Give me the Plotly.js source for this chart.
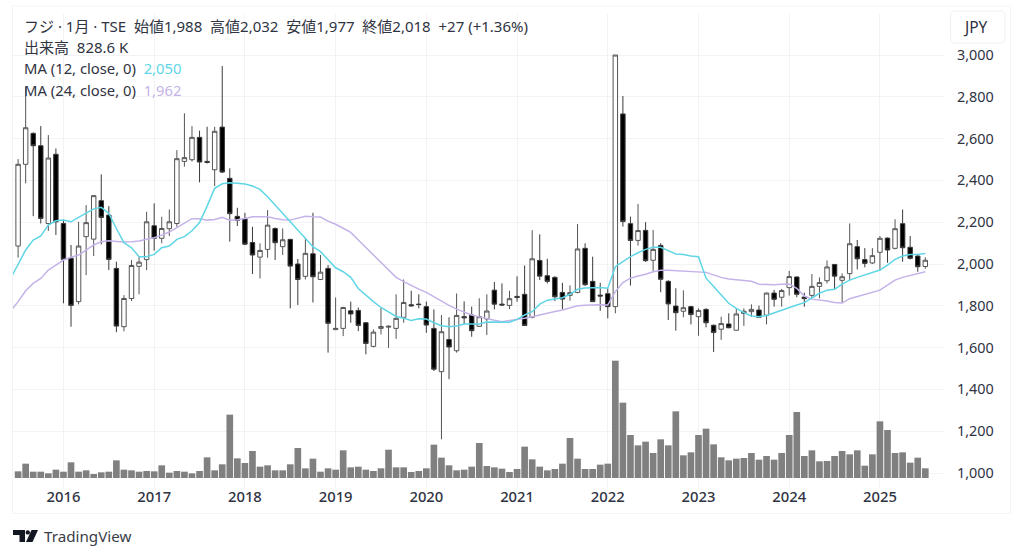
<!DOCTYPE html>
<html><head><meta charset="utf-8">
<script src="https://cdn.plot.ly/plotly-3.0.1.min.js"></script>
<style>html,body{margin:0;padding:0;background:#fff}#c{width:1024px;height:558px}</style>
</head><body><div id="c"></div>
<script>
// monthly bars: Jul 2015 .. Jul 2025
const opens=[2086,2477,2625,2566,2194,2525,2194,2028,1820,2131,
2119,2303,2234,1979,1700,1835,1989,2021,2183,2123,
2169,2194,2491,2499,2606,2491,2451,2655,2410,2228,
2217,2103,2033,2070,2170,2083,2118,2000,1941,2049,
1926,1979,1686,1692,1776,1778,1719,1606,1692,1698,
1692,1745,1805,1808,1796,1692,1485,1639,1585,1748,
1756,1702,1737,1875,1808,1802,1845,1855,1745,2017,
1944,1936,1864,1850,1864,2075,1917,1851,1858,1796,
2718,2193,2113,2161,2018,2089,1917,1799,1774,1796,
1748,1783,1707,1688,1713,1683,1763,1772,1780,1755,
1861,1841,1887,1938,1842,1850,1893,1920,1998,1922,
1954,2083,2021,2005,2056,2124,2075,2193,2080,2038,1988];
const highs=[2502,2848,2630,2660,2617,2553,2213,2091,2202,2282,
2330,2429,2277,2011,1851,2019,2035,2250,2290,2226,
2261,2545,2721,2660,2638,2657,2657,2947,2458,2269,
2245,2178,2099,2258,2175,2170,2120,2024,2123,2245,
2043,1995,1840,1795,1820,1792,1722,1687,1789,1706,
1855,1926,1872,1855,1820,1783,1756,1745,1859,1821,
1796,1836,1855,1914,1907,1872,1941,1993,2162,2142,
2025,1942,1910,1898,2191,2099,2035,1910,1883,3000,
2804,2227,2287,2200,2163,2099,1923,1884,1874,1800,
1788,1788,1710,1748,1764,1788,1788,1807,1801,1863,
1876,1881,1967,1940,1863,1952,1936,2017,2000,1955,
2194,2115,2076,2076,2134,2127,2214,2261,2134,2048,2032];
const lows=[2030,2386,2229,2194,2158,2139,1812,1700,1807,1947,
2038,2094,1971,1674,1678,1823,1855,1971,2064,2099,
2134,2178,2466,2490,2391,2481,2373,2435,2107,2182,
2090,1952,1931,2030,2019,2043,1788,1804,1926,1816,
1923,1576,1684,1655,1719,1679,1568,1601,1663,1599,
1642,1719,1796,1788,1671,1488,1161,1449,1576,1713,
1652,1699,1660,1783,1800,1784,1820,1704,1740,1923,
1907,1823,1783,1824,1860,1895,1818,1776,1740,1764,
2179,1897,2088,2010,1967,1865,1732,1681,1745,1711,
1657,1697,1579,1637,1693,1681,1704,1747,1743,1711,
1796,1796,1849,1841,1796,1836,1836,1907,1880,1815,
1920,1974,1984,2000,1968,2006,2070,2011,2022,1963,1977];
const closes=[2477,2652,2566,2218,2507,2202,2022,1802,2086,2198,
2327,2223,2022,1703,1835,1993,2009,2202,2123,2170,
2202,2504,2509,2606,2488,2486,2635,2440,2241,2209,
2095,2043,2065,2186,2102,2116,1990,1926,2051,1939,
1961,1716,1692,1792,1761,1706,1620,1674,1701,1702,
1740,1816,1800,1806,1708,1497,1676,1603,1754,1743,
1681,1748,1775,1808,1804,1834,1840,1706,2025,1942,
1917,1843,1832,1863,2072,1901,1820,1847,1796,3000,
2203,2113,2160,2016,2070,1927,1809,1767,1791,1758,
1778,1719,1672,1715,1695,1761,1774,1783,1745,1861,
1831,1873,1940,1855,1834,1893,1911,1986,1942,1939,
2097,2025,2003,2040,2123,2067,2169,2078,2027,1987,2018];
// volume in thousands of shares
const volumes=[570,1225,540,540,400,712,540,1340,540,655,
342,485,540,1510,712,655,540,600,570,1083,
456,600,540,400,600,1767,655,1170,5415,1680,
1280,2310,970,1083,655,655,1170,2565,826,1653,
540,826,712,2365,912,970,712,600,826,2420,
912,912,513,600,826,2850,1740,1083,655,712,
970,2990,1026,912,798,513,770,2680,1596,970,
655,770,1225,3420,1653,770,770,1140,1225,10030,
6440,3676,2793,3106,2137,3306,2793,5700,1938,2195,
3676,4218,2878,1767,1510,1653,1710,2137,1567,1881,
1567,2137,3676,5643,1881,2365,1425,1453,1881,2310,
2023,2365,1054,2023,4845,4104,2137,2195,1311,1738,828.6];
// moving averages, first value one month before the first bar
const ma12=[1930,1995,2067,2115,2134,2186,2207,2210,2202,2223,2242,
2264,2271,2242,2170,2102,2078,2035,2035,2046,2078,
2086,2118,2131,2159,2198,2277,2362,2384,2389,2387,
2383,2373,2357,2322,2282,2242,2207,2167,2123,2083,
2059,2019,1982,1963,1936,1883,1851,1820,1792,1772,
1749,1740,1730,1738,1737,1719,1705,1700,1703,1713,
1714,1713,1722,1721,1719,1721,1735,1756,1772,1808,
1827,1834,1839,1855,1879,1885,1888,1888,1884,1987,
2011,2035,2054,2070,2080,2080,2064,2048,2045,2038,
2035,1932,1892,1852,1812,1788,1767,1751,1748,1754,
1767,1780,1793,1804,1815,1836,1860,1875,1879,1904,
1923,1936,1947,1958,1971,1995,2022,2038,2046,2046,2050];
const ma24=[1775,1820,1872,1907,1931,1971,1995,2019,2032,2043,2067,
2091,2107,2111,2108,2105,2107,2110,2118,2126,2138,
2153,2174,2194,2217,2217,2210,2213,2223,2210,2212,
2218,2226,2226,2226,2218,2212,2210,2218,2228,2226,
2225,2205,2190,2171,2151,2115,2079,2043,2007,1971,
1936,1916,1896,1880,1864,1842,1820,1802,1784,1770,
1756,1747,1738,1731,1724,1729,1735,1741,1748,1757,
1767,1773,1780,1790,1800,1803,1805,1805,1804,1868,
1911,1932,1943,1951,1963,1970,1970,1968,1967,1963,
1962,1960,1948,1936,1928,1925,1922,1917,1903,1901,
1901,1903,1904,1883,1847,1832,1828,1823,1816,1813,
1834,1844,1855,1864,1875,1899,1923,1936,1946,1955,1963];
const yearLabels=['2016','2017','2018','2019','2020','2021','2022','2023','2024','2025'];
const yearIdx=[6,18,30,42,54,66,78,90,102,114];
const priceTicks=[1000,1200,1400,1600,1800,2000,2200,2400,2600,2800,3000];
const priceText=['1,000','1,200','1,400','1,600','1,800','2,000','2,200','2,400','2,600','2,800','3,000'];
const idx=opens.map((_,i)=>i);
const maIdx=ma12.map((_,i)=>i-1);

const W=1024,H=558,L=13,R=945,T=14,B=487;
const PX=x=>(x-L)/(R-L), PY=y=>(B-y)/(B-T);
const pt=(x,y)=>PX(x).toFixed(5)+','+PY(y).toFixed(5);
const FONT='"Noto Sans","Noto Sans CJK JP",sans-serif';
const INK='#2f3342';
function note(x,y,text,size,extra){return Object.assign({xref:'paper',yref:'paper',x:PX(x),y:PY(y),text:text,showarrow:false,xanchor:'left',yanchor:'middle',font:{family:FONT,size:size,color:INK},borderpad:0},extra||{});}
function rr(x0,y0,x1,y1,r){return 'M'+pt(x0+r,y0)+' L'+pt(x1-r,y0)+' Q'+pt(x1,y0)+' '+pt(x1,y0+r)+' L'+pt(x1,y1-r)+' Q'+pt(x1,y1)+' '+pt(x1-r,y1)+' L'+pt(x0+r,y1)+' Q'+pt(x0,y1)+' '+pt(x0,y1-r)+' L'+pt(x0,y0+r)+' Q'+pt(x0,y0)+' '+pt(x0+r,y0)+' Z';}
const paper={xref:'paper',yref:'paper'};
const shapes=[
 Object.assign({type:'rect',x0:PX(12.5),x1:PX(1010.5),y0:PY(513.5),y1:PY(6),line:{color:'#f3f3f5',width:1},layer:'below'},paper),
 Object.assign({type:'path',path:rr(950.5,11,1005,43,5),line:{color:'#eff0f2',width:1},fillcolor:'#fff'},paper),
 Object.assign({type:'path',path:'M'+pt(13,530)+' L'+pt(25,530)+' L'+pt(25,542)+' L'+pt(19.5,542)+' L'+pt(19.5,535)+' L'+pt(13,535)+' Z',line:{width:0},fillcolor:'#131722'},paper),
 Object.assign({type:'circle',x0:PX(25.6),x1:PX(30),y0:PY(534.6),y1:PY(530.2),line:{width:0},fillcolor:'#131722'},paper),
 Object.assign({type:'path',path:'M'+pt(31.5,530)+' L'+pt(38,530)+' L'+pt(32.5,542)+' L'+pt(26,542)+' Z',line:{width:0},fillcolor:'#131722'},paper)
];
const annotations=[
 note(23,26,'フジ · 1月 · TSE  始値1,988  高値2,032  安値1,977  終値2,018  +27 (+1.36%)',15),
 note(23,47,'出来高  828.6 K',15),
 note(23,68,'MA (12, close, 0)  <span style="color:#5fd6e6">2,050</span>',14.8),
 note(23,90,'MA (24, close, 0)  <span style="color:#c4b3e8">1,962</span>',14.8),
 note(962,27,'JPY',15.5),
 note(43,536,'TradingView',15.2,{font:{family:FONT,size:15.2,color:'#3a3d47'}})
];
const traces=[
 {type:'bar',x:idx,y:volumes,yaxis:'y',marker:{color:'#808080',line:{width:0}},hoverinfo:'skip',showlegend:false},
 {type:'candlestick',x:idx,open:opens,high:highs,low:lows,close:closes,yaxis:'y2',whiskerwidth:0,
  increasing:{line:{color:'#555555',width:1},fillcolor:'#ffffff'},
  decreasing:{line:{color:'#3a3a3a',width:1},fillcolor:'#000000'},hoverinfo:'skip',showlegend:false},
 {type:'scatter',mode:'lines',x:maIdx,y:ma24,yaxis:'y2',line:{color:'#c4b3e8',width:1.5},hoverinfo:'skip',showlegend:false},
 {type:'scatter',mode:'lines',x:maIdx,y:ma12,yaxis:'y2',line:{color:'#5fd6e6',width:1.5},hoverinfo:'skip',showlegend:false}
];
const layout={width:W,height:H,margin:{l:L,r:W-R,t:T,b:H-B,pad:0},paper_bgcolor:'#fff',plot_bgcolor:'#fff',
 showlegend:false,bargap:0.12,boxgap:0.16,hovermode:false,dragmode:false,
 xaxis:{range:[(L-18.1)/7.56,(R-18.1)/7.56],tickmode:'array',tickvals:yearIdx,ticktext:yearLabels,showgrid:true,gridcolor:'#f3f3f5',gridwidth:1,zeroline:false,showline:false,ticks:'',ticklabelstandoff:-1,tickfont:{family:FONT,size:14.8,color:INK,weight:500},rangeslider:{visible:false},fixedrange:true},
 yaxis:{range:[-770,39672],visible:false,fixedrange:true,showgrid:false},
 yaxis2:{overlaying:'y',side:'right',range:[933,3196.3],tickmode:'array',tickvals:priceTicks,ticktext:priceText,showgrid:true,gridcolor:'#f3f3f5',gridwidth:1,zeroline:false,showline:false,ticks:'',ticklabelstandoff:11,tickfont:{family:FONT,size:14.4,color:INK},fixedrange:true},
 shapes:shapes,annotations:annotations};
Plotly.newPlot('c',traces,layout,{displayModeBar:false,staticPlot:true});
</script></body></html>
